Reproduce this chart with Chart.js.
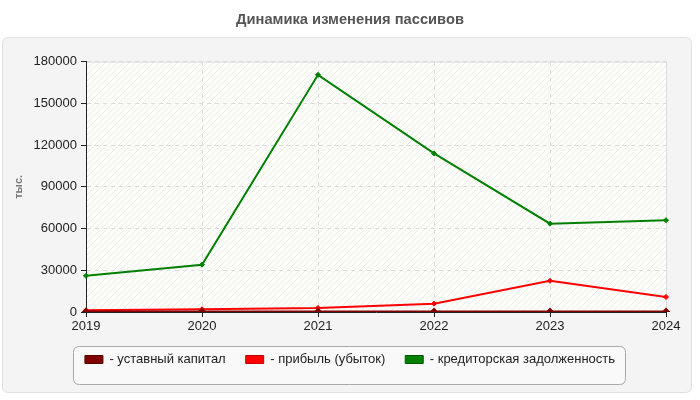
<!DOCTYPE html>
<html lang="ru">
<head>
    <meta charset="UTF-8">
    <title>Динамика изменения пассивов</title>
    <script src="https://cdn.jsdelivr.net/npm/chart.js"></script>
    <style>
        html, body { margin: 0; padding: 0; background: #fff; }
        .wrap { width: 700px; height: 400px; }
    </style>
</head>
<body>
    <div class="wrap"><canvas id="chart" width="700" height="400"></canvas></div>

    <script>
        // data
        const years = ['2019', '2020', '2021', '2022', '2023', '2024'];
        const ustavCapital = [100, 100, 100, 100, 100, 100];
        const profit = [1200, 2000, 2900, 6000, 22400, 10800];
        const payables = [26000, 34000, 170500, 114000, 63500, 66000];
        const seriesNames = ['- уставный капитал', '- прибыль (убыток)', '- кредиторская задолженность'];

        const FONT = '"Liberation Sans", Arial, sans-serif';

        function roundRect(ctx, x, y, w, h, r) {
            ctx.beginPath();
            ctx.moveTo(x + r, y);
            ctx.lineTo(x + w - r, y);
            ctx.quadraticCurveTo(x + w, y, x + w, y + r);
            ctx.lineTo(x + w, y + h - r);
            ctx.quadraticCurveTo(x + w, y + h, x + w - r, y + h);
            ctx.lineTo(x + r, y + h);
            ctx.quadraticCurveTo(x, y + h, x, y + h - r);
            ctx.lineTo(x, y + r);
            ctx.quadraticCurveTo(x, y, x + r, y);
            ctx.closePath();
        }

        // hatched plot background
        function hatch(ctx) {
            const c = document.createElement('canvas');
            c.width = 6; c.height = 6;
            const p = c.getContext('2d');
            p.fillStyle = '#fdfdf9';
            p.fillRect(0, 0, 6, 6);
            p.strokeStyle = '#ececea';
            p.lineWidth = 1;
            p.beginPath();
            p.moveTo(0, 6); p.lineTo(6, 0);
            p.moveTo(-1, 1); p.lineTo(1, -1);
            p.moveTo(5, 7); p.lineTo(7, 5);
            p.stroke();
            return ctx.createPattern(c, 'repeat');
        }

        const background = {
            id: 'background',
            beforeDraw(chart) {
                const ctx = chart.ctx;
                const a = chart.chartArea;
                ctx.save();
                ctx.fillStyle = '#fff';
                ctx.fillRect(0, 0, chart.width, chart.height);

                // grey panel
                roundRect(ctx, 2.5, 37.5, 689, 355, 6);
                ctx.fillStyle = '#f4f4f4';
                ctx.fill();
                ctx.strokeStyle = '#e0e0e0';
                ctx.lineWidth = 1;
                ctx.stroke();

                // plot area
                ctx.fillStyle = hatch(ctx);
                ctx.fillRect(a.left, a.top, a.right - a.left, a.bottom - a.top);
                ctx.strokeStyle = '#dddddd';
                ctx.beginPath();
                ctx.moveTo(a.left, a.top + 0.5);
                ctx.lineTo(a.right + 0.5, a.top + 0.5);
                ctx.lineTo(a.right + 0.5, a.bottom);
                ctx.stroke();

                // legend frame
                const lg = chart.legend;
                if (lg && lg.legendHitBoxes.length) {
                    const hb = lg.legendHitBoxes;
                    const first = hb[0];
                    const last = hb[hb.length - 1];
                    const x0 = first.left - 12;
                    const x1 = last.left + last.width + 10;
                    const y0 = first.top - 7;
                    roundRect(ctx, Math.round(x0) + 0.5, Math.round(y0) + 0.5, Math.round(x1 - x0), 38, 6);
                    ctx.fillStyle = '#f9f9f9';
                    ctx.fill();
                    ctx.strokeStyle = '#a8a8a8';
                    ctx.stroke();
                }
                ctx.restore();
            }
        };

        const ctx = document.getElementById('chart').getContext('2d');
        const chart = new Chart(ctx, {
            type: 'line',
            data: {
                labels: years,
                datasets: [{
                    label: seriesNames[0],
                    data: ustavCapital,
                    borderColor: '#800000',
                    backgroundColor: '#800000',
                    legendBorder: '#5a0000',
                    borderWidth: 2.5
                }, {
                    label: seriesNames[1],
                    data: profit,
                    borderColor: '#ff0000',
                    backgroundColor: '#ff0000',
                    legendBorder: '#c00000'
                }, {
                    label: seriesNames[2],
                    data: payables,
                    borderColor: '#008000',
                    backgroundColor: '#008000',
                    legendBorder: '#005a00'
                }],
            },
            options: {
                responsive: false,
                animation: false,
                elements: {
                    line: { borderWidth: 2, tension: 0 },
                    point: { radius: 2.5, pointStyle: 'rectRot', borderWidth: 1 }
                },
                layout: { padding: { left: 0, right: 0, top: 0, bottom: 24 } },
                scales: {
                    x: {
                        offset: false,
                        grid: { color: '#dcdcdc', tickColor: '#222', tickLength: 5 },
                        border: { color: '#222', dash: [4, 4] },
                        ticks: { color: '#222', font: { family: FONT, size: 13 }, padding: 2, maxRotation: 0 },
                        afterFit(s) { s.height = 21; }
                    },
                    y: {
                        min: 0,
                        max: 180000,
                        grid: { color: '#dcdcdc', tickColor: '#222', tickLength: 5 },
                        border: { color: '#222', dash: [4, 4] },
                        ticks: {
                            stepSize: 30000,
                            color: '#222',
                            font: { family: FONT, size: 13 },
                            padding: 4,
                            callback: v => String(v)
                        },
                        title: { display: true, text: 'тыс.', color: '#777', font: { family: FONT, size: 11, weight: 'bold' }, padding: { top: 12, bottom: 0 } },
                        afterFit(s) { s.width = 86; }
                    },
                    // empty right margin
                    spacer: {
                        position: 'right',
                        display: true,
                        grid: { display: false },
                        border: { display: false },
                        ticks: { display: false },
                        afterFit(s) { s.width = 34; }
                    }
                },
                plugins: {
                    title: {
                        display: true,
                        text: 'Динамика изменения пассивов',
                        color: '#555',
                        font: { family: FONT, size: 14.7, weight: 'bold' },
                        padding: { top: 11.5, bottom: 32.5 }
                    },
                    legend: {
                        position: 'bottom',
                        labels: {
                            color: '#222',
                            font: { family: FONT, size: 13 },
                            boxWidth: 18,
                            boxHeight: 8,
                            padding: 20,
                            useBorderRadius: true,
                            borderRadius: 3,
                            generateLabels(chart) {
                                return chart.data.datasets.map((d, i) => ({
                                    text: d.label,
                                    fillStyle: d.backgroundColor,
                                    strokeStyle: d.legendBorder,
                                    lineWidth: 1,
                                    fontColor: '#222',
                                    hidden: !chart.isDatasetVisible(i),
                                    datasetIndex: i
                                }));
                            }
                        }
                    },
                    tooltip: { enabled: false }
                }
            },
            plugins: [background]
        });
    </script>
</body>
</html>
